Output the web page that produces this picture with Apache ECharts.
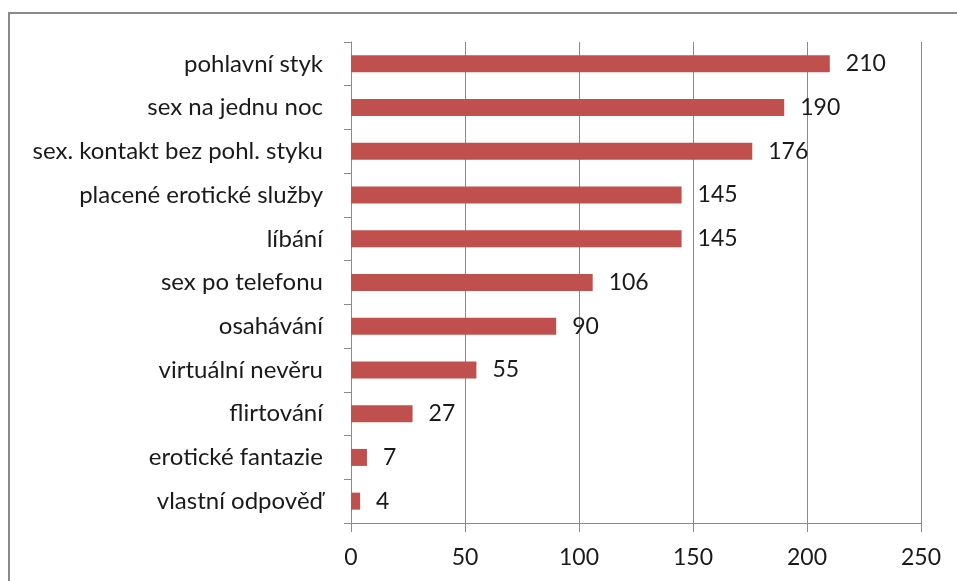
<!DOCTYPE html>
<html>
<head>
<meta charset="utf-8">
<script src="https://cdn.jsdelivr.net/npm/echarts@6/dist/echarts.min.js"></script>
<style>html,body{margin:0;padding:0;background:#fff}#c{width:957px;height:581px}</style>
</head>
<body>
<div id="c"></div>
<script>
const categories = ["pohlavní styk","sex na jednu noc","sex. kontakt bez pohl. styku","placené erotické služby","líbání","sex po telefonu","osahávání","virtuální nevěru","flirtování","erotické fantazie","vlastní odpověď"];
const values = [210,190,176,145,145,106,90,55,27,7,4];
const xTicks = [0,50,100,150,200,250];

const FONT = 'Lato';
const chart = echarts.init(document.getElementById('c'), null, {renderer:'canvas'});
chart.setOption({
  animation:false,
  backgroundColor:'#fff',
  graphic:[{type:'rect', shape:{x:9,y:13,width:1000,height:700}, style:{fill:'none', stroke:'#8a8a8a', lineWidth:2}, silent:true}],
  grid:{left:351,right:36,top:42,bottom:58},
  xAxis:{type:'value', min:xTicks[0], max:xTicks[xTicks.length-1], interval:50,
    axisLine:{show:true, lineStyle:{color:'#8a8a8a', width:1}},
    axisTick:{show:true, length:9, lineStyle:{color:'#8a8a8a'}},
    splitLine:{show:true, lineStyle:{color:'#8a8a8a', width:1}},
    axisLabel:{margin:23, fontFamily:FONT, fontSize:23, color:'#1a1a1a'}},
  yAxis:{type:'category', data:categories, inverse:true,
    axisLine:{show:true, lineStyle:{color:'#8a8a8a', width:1}},
    axisTick:{show:true, length:7, lineStyle:{color:'#8a8a8a'}},
    axisLabel:{margin:28, fontFamily:FONT, fontSize:24, color:'#1a1a1a'}},
  series:[{type:'bar', data:values, barWidth:17,
    itemStyle:{color:'#C0504D'},
    label:{show:true, position:'right', distance:16, fontFamily:FONT, fontSize:23, color:'#1a1a1a'}}]
});
</script>
</body>
</html>
